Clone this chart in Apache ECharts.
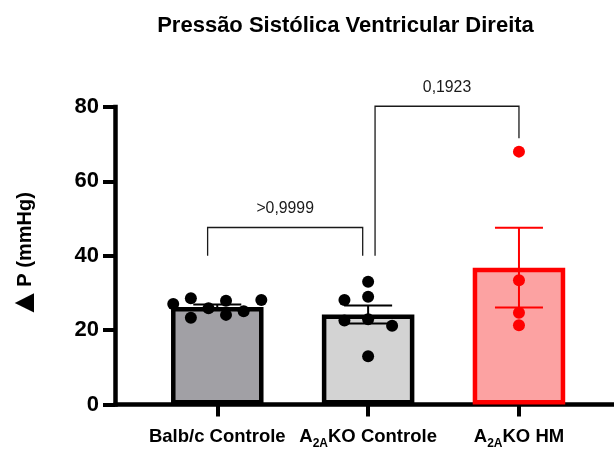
<!DOCTYPE html>
<html>
<head>
<meta charset="utf-8">
<script src="https://cdn.jsdelivr.net/npm/echarts@6/dist/echarts.min.js"></script>
<style>
  html, body { margin: 0; padding: 0; background: #ffffff; }
  #chart { width: 614px; height: 450px; }
</style>
</head>
<body>
<div id="chart"></div>
<script>
// ---- data ----
const categories = ['Balb/c Controle', 'A2AKO Controle', 'A2AKO HM'];
const groupMeans = [26.2, 24.2, 36.8];
const groupSem = [0.7, 2.45, 10.7];
const balbValues = [27.0, 28.6, 23.3, 25.9, 27.9, 24.1, 25.1, 28.1];
const a2aControlValues = [33.0, 28.1, 29.0, 22.6, 22.9, 21.2, 13.0];
const a2aHmValues = [68.0, 33.4, 24.7, 21.3];
const yTicks = [0, 20, 40, 60, 80];
const comparisonLabels = ['>0,9999', '0,1923'];

// ---- layout ----
// sideways spread of the individual dots within a column (category units)
const balbSpread = [-0.292, -0.175, -0.175, -0.058, 0.058, 0.058, 0.175, 0.292];
const a2aControlSpread = [0, -0.157, 0, -0.157, 0, 0.159, 0];
const a2aHmSpread = [0, 0, 0, 0];
// brackets: left x, right x, bar height, left leg end, right leg end
const brackets = [
  [-0.064, 0.964, 47.6, 40, 40],
  [1.046, 2.0, 80.2, 40, 71.6]
];

const FONT = '"Liberation Sans", Arial, Helvetica, sans-serif';
const barFill = ['#a1a0a5', '#d3d3d3', '#fca2a2'];
const barEdge = ['#000000', '#000000', '#ff0000'];
const dotColor = ['#000000', '#000000', '#ff0000'];

function dots(values, spread, group) {
  return values.map((v, i) => [group + spread[i], v]);
}

function categoryLabel(name) {
  const m = name.match(/^A2A(.*)$/);
  if (m) return '{m|A}{s|2A}{m|' + m[1] + '}';
  return '{m|' + name + '}';
}

const chart = echarts.init(document.getElementById('chart'), null, { renderer: 'canvas' });

const option = {
  animation: false,
  backgroundColor: '#ffffff',
  graphic: [{
    type: 'text',
    x: 345.5,
    y: 25.8,
    style: {
      text: 'Pressão Sistólica Ventricular Direita',
      font: 'bold 22px ' + FONT,
      fill: '#000000',
      align: 'center',
      verticalAlign: 'middle',
      textAlign: 'center',
      textVerticalAlign: 'middle'
    }
  }],
  grid: { left: 115, right: 0, top: 107, bottom: 42, containLabel: false },
  xAxis: {
    type: 'value',
    min: -0.678,
    max: 2.63,
    splitLine: { show: false },
    axisLine: { show: true, onZero: false, lineStyle: { color: '#000', width: 4.5 } },
    axisTick: {
      show: true,
      customValues: [0, 1, 2],
      length: 12,
      lineStyle: { color: '#000', width: 4 }
    },
    axisLabel: {
      show: true,
      customValues: [0, 1, 2],
      margin: 23,
      verticalAlign: 'top',
      formatter: (v) => categoryLabel(categories[Math.round(v)]),
      rich: {
        m: { fontFamily: FONT, fontWeight: 'bold', fontSize: 18.5, lineHeight: 19, color: '#000', verticalAlign: 'top' },
        s: { fontFamily: FONT, fontWeight: 'bold', fontSize: 12, lineHeight: 12, color: '#000', padding: [10.5, 0, 0, 0], verticalAlign: 'top' }
      }
    }
  },
  yAxis: {
    type: 'value',
    min: yTicks[0],
    max: yTicks[yTicks.length - 1],
    interval: 20,
    name: '{t|▲}{p|P (mmHg)}',
    nameLocation: 'middle',
    nameRotate: 90,
    nameGap: 78,
    nameTextStyle: {
      fontFamily: FONT, fontWeight: 'bold', fontSize: 20, color: '#000',
      rich: {
        t: { fontFamily: FONT, fontSize: 33, lineHeight: 24, color: '#000', verticalAlign: 'middle' },
        p: { fontFamily: FONT, fontWeight: 'bold', fontSize: 20, lineHeight: 24, color: '#000', verticalAlign: 'middle' }
      }
    },
    splitLine: { show: false },
    axisLine: { show: true, onZero: false, lineStyle: { color: '#000', width: 4.5, cap: 'square' } },
    axisTick: { show: true, length: 12, lineStyle: { color: '#000', width: 4 } },
    axisLabel: {
      margin: 16,
      fontFamily: FONT,
      fontWeight: 'bold',
      fontSize: 22,
      color: '#000'
    }
  },
  series: [
    {
      type: 'bar',
      barWidth: 92.5,
      z: 2,
      data: groupMeans.map((m, i) => ({
        value: [i, m],
        itemStyle: { color: barFill[i], borderColor: barEdge[i], borderWidth: 4.5 }
      }))
    },
    {
      type: 'custom',
      z: 3,
      data: groupMeans.map((m, i) => [i, m, groupSem[i]]),
      encode: { x: 0, y: 1 },
      renderItem: (params, api) => {
        const i = params.dataIndex;
        const x = api.value(0), m = api.value(1), s = api.value(2);
        const top = api.coord([x, m + s]);
        const bot = api.coord([x, m - s]);
        const half = 24;
        const st = { stroke: dotColor[i], lineWidth: 2 };
        return {
          type: 'group',
          children: [
            { type: 'line', shape: { x1: top[0], y1: top[1], x2: bot[0], y2: bot[1] }, style: st },
            { type: 'line', shape: { x1: top[0] - half, y1: top[1], x2: top[0] + half, y2: top[1] }, style: st },
            { type: 'line', shape: { x1: bot[0] - half, y1: bot[1], x2: bot[0] + half, y2: bot[1] }, style: st }
          ]
        };
      }
    },
    {
      type: 'scatter', z: 4, symbolSize: 12,
      itemStyle: { color: dotColor[0], opacity: 1 },
      data: dots(balbValues, balbSpread, 0)
    },
    {
      type: 'scatter', z: 4, symbolSize: 12,
      itemStyle: { color: dotColor[1], opacity: 1 },
      data: dots(a2aControlValues, a2aControlSpread, 1)
    },
    {
      type: 'scatter', z: 4, symbolSize: 12,
      itemStyle: { color: dotColor[2], opacity: 1 },
      data: dots(a2aHmValues, a2aHmSpread, 2)
    },
    {
      type: 'custom',
      z: 5,
      clip: false,
      data: brackets,
      encode: { x: [0, 1], y: [2, 3, 4] },
      renderItem: (params, api) => {
        const i = params.dataIndex;
        const x1 = api.value(0), x2 = api.value(1), h = api.value(2);
        const p1 = api.coord([x1, api.value(3)]);
        const p2 = api.coord([x1, h]);
        const p3 = api.coord([x2, h]);
        const p4 = api.coord([x2, api.value(4)]);
        return {
          type: 'group',
          children: [
            {
              type: 'polyline',
              shape: { points: [p1, p2, p3, p4] },
              style: { stroke: '#1a1a1a', lineWidth: 1.3, fill: null }
            },
            {
              type: 'text',
              x: (p2[0] + p3[0]) / 2,
              y: p2[1] - 19,
              style: {
                text: comparisonLabels[i],
                font: '15.8px ' + FONT,
                fill: '#1a1a1a',
                align: 'center',
                verticalAlign: 'middle'
              }
            }
          ]
        };
      }
    }
  ]
};

chart.setOption(option);
</script>
</body>
</html>
